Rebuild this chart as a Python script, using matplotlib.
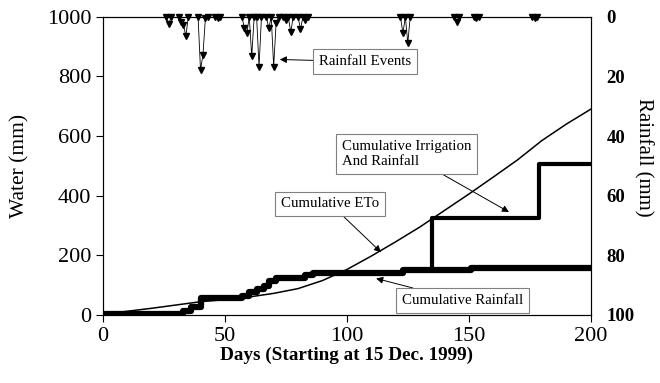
import matplotlib
matplotlib.use("Agg")
import matplotlib.pyplot as plt
import numpy as np

plt.rcParams['font.family'] = ['Liberation Serif', 'DejaVu Serif']

# cumulative ETo (day, mm)
eto_days = [0, 10, 20, 30, 40, 50, 60, 70, 80, 90, 100, 110, 120, 130, 140, 150, 160, 170, 180, 190, 200]
eto_mm = [3, 12, 22, 33, 44, 51, 60, 72, 88, 115, 152, 197, 245, 295, 350, 405, 462, 520, 585, 640, 690]

# cumulative rainfall, step changes (day, mm)
rain_cum_days = [0, 33, 36, 40, 56, 57, 60, 63, 66, 68, 71, 75, 83, 86, 123, 151, 200]
rain_cum_mm = [3, 14, 25, 55, 55, 64, 75, 86, 97, 114, 123, 125, 134, 140, 152, 158, 158]

# cumulative irrigation + rainfall
irr_days = [0, 33, 36, 40, 56, 57, 60, 63, 66, 68, 71, 75, 83, 86, 123, 134, 135, 178, 179, 200]
irr_mm = [3, 14, 25, 55, 55, 64, 75, 86, 97, 114, 123, 125, 134, 140, 152, 152, 325, 325, 507, 507]

# daily rainfall events (day, mm)
event_days = [27, 32, 33, 34, 40, 41, 42, 47, 58, 59, 61, 64, 68, 70, 71, 75, 77, 81, 83, 123, 125, 145, 153, 177]
event_mm = [2.3, 1.6, 2.7, 6.4, 17.8, 12.8, 0.5, 0.5, 3.8, 5.5, 13.3, 16.7, 3.8, 16.7, 2.0, 1.0, 5.2, 4.1, 1.0, 5.5, 8.8, 1.6, 0.4, 0.4]

fig = plt.figure(figsize=(6.6, 3.83), dpi=100)
ax = fig.add_axes([0.156, 0.178, 0.739, 0.778])

ax.plot(eto_days, eto_mm, color='black', lw=1.1)
ax.plot(rain_cum_days, rain_cum_mm, color='black', lw=4.5, drawstyle='steps-post')
ax.plot(irr_days, irr_mm, color='black', lw=3, drawstyle='steps-post')

ax.set_xlim(0, 200)
ax.set_ylim(0, 1000)
ax.set_xticks([0, 50, 100, 150, 200])
ax.set_yticks([0, 200, 400, 600, 800, 1000])
ax.tick_params(labelsize=16, direction='out', length=5)
ax.set_ylabel("Water (mm)", fontsize=15.5)
ax.yaxis.set_label_coords(-0.15, 0.5)
ax.set_xlabel("Days (Starting at 15 Dec. 1999)", fontsize=13.8, fontweight='bold', labelpad=1)

# rainfall events on inverted right axis
ax2 = ax.twinx()
rain = np.zeros(201)
rain[event_days] = event_mm
near = np.zeros(201, dtype=bool)
for d in event_days:
    near[max(d - 1, 0):d + 2] = True
days = np.arange(201)
ax2.plot(days, np.where(near, rain, np.nan), color='black', lw=0.6,
         marker='v', markersize=4, clip_on=False)
ax2.set_ylim(100, 0)
ax2.set_yticks([0, 20, 40, 60, 80, 100])
ax2.tick_params(length=0, labelsize=13.5, pad=11.5)
for t in ax2.get_yticklabels():
    t.set_fontweight('bold')
ax2.set_ylabel("Rainfall (mm)", fontsize=15, rotation=270, va='center')
ax2.yaxis.set_label_coords(1.107, 0.527)

box = dict(boxstyle='square,pad=0.4', fc='white', ec='grey', lw=0.8)
arr = dict(arrowstyle='-|>', color='black', lw=0.7, mutation_scale=10, shrinkA=0, shrinkB=0)

ax.annotate("Rainfall Events", xy=(72.5, 857), xytext=(107.5, 849), fontsize=10.7,
            ha='center', va='center', bbox=box, arrowprops=arr)
ax.annotate("Cumulative Irrigation\nAnd Rainfall", xy=(166.5, 345), xytext=(124.5, 540),
            fontsize=10.7, ha='center', va='center', multialignment='left', bbox=box,
            arrowprops=arr)
ax.annotate("Cumulative ETo", xy=(114, 210), xytext=(93.3, 372), fontsize=10.7,
            ha='center', va='center', bbox=box, arrowprops=arr)
ax.annotate("Cumulative Rainfall", xy=(112, 122), xytext=(147.5, 47), fontsize=10.7,
            ha='center', va='center', bbox=box, arrowprops=arr)

fig.savefig("out.png", dpi=100)
